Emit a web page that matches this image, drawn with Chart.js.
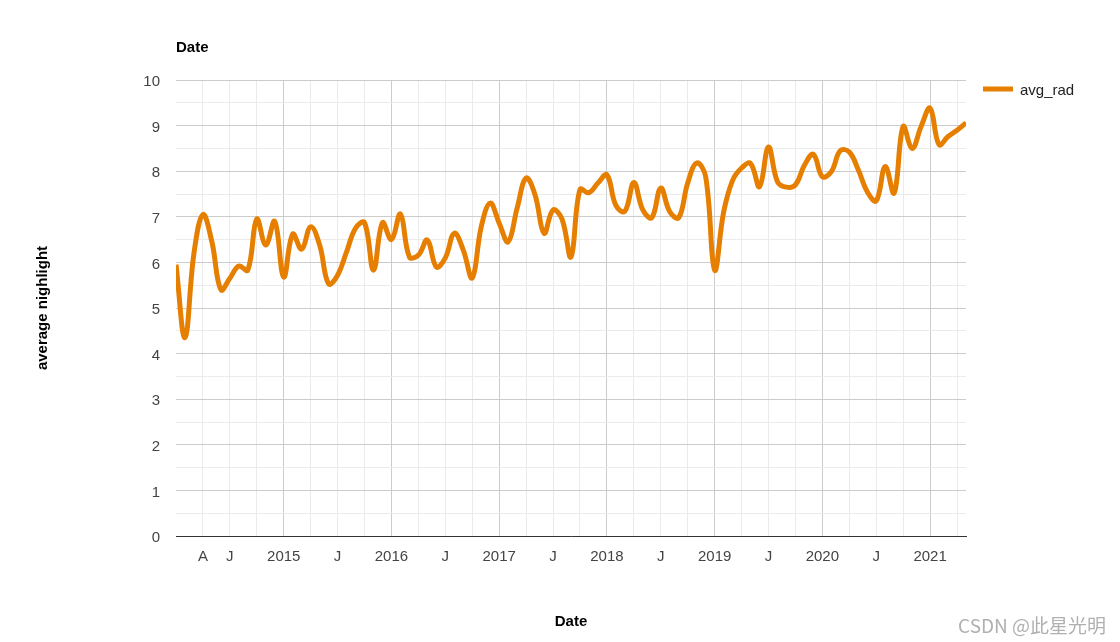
<!DOCTYPE html>
<html>
<head>
<meta charset="utf-8">
<script src="https://cdn.jsdelivr.net/npm/chart.js@4"></script>
<style>
  html, body { margin: 0; padding: 0; background: #fff; }
  #wrap { width: 1120px; height: 642px; position: relative; }
</style>
</head>
<body>
<div id="wrap"><canvas id="chart" width="1120" height="642"></canvas></div>
<script>
// monthly avg_rad, Jan 2014 .. May 2021 (month index 0 = Jan 2014)
const avgRad = [
  5.95, 4.35, 6.2, 7.05, 6.45, 5.4, 5.65, 5.92, 5.83, 6.95, 6.38, 6.9,
  5.68, 6.62, 6.29, 6.78, 6.38, 5.53, 5.72, 6.23, 6.75, 6.87, 5.83, 6.87,
  6.5, 7.06, 6.12, 6.16, 6.49, 5.9, 6.1, 6.64, 6.27, 5.66, 6.78, 7.3,
  6.86, 6.45, 7.19, 7.85, 7.48, 6.64, 7.15, 6.95, 6.12, 7.6, 7.53, 7.74,
  7.92, 7.25, 7.12, 7.75, 7.15, 6.98, 7.63, 7.11, 6.98, 7.74, 8.18, 7.88,
  5.83, 7.1, 7.8, 8.07, 8.17, 7.66, 8.53, 7.77, 7.65, 7.7, 8.13, 8.37,
  7.88, 7.99, 8.45, 8.42, 8.03, 7.55, 7.35, 8.1, 7.52, 8.98, 8.5, 8.98,
  9.38, 8.58, 8.76, 8.9, 9.06
];
const tickMonths = [3, 6, 12, 18, 24, 30, 36, 42, 48, 54, 60, 66, 72, 78, 84];
const tickLabels = ['A', 'J', '2015', 'J', '2016', 'J', '2017', 'J', '2018', 'J', '2019', 'J', '2020', 'J', '2021'];
const yTicks = [0, 1, 2, 3, 4, 5, 6, 7, 8, 9, 10];

const ORANGE = '#e67e00';
const FONT = '"Liberation Sans", Arial, sans-serif';

const points = avgRad.map((v, i) => ({ x: i, y: v }));

const extras = {
  id: 'extras',
  afterDraw(c) {
    const ctx = c.ctx;
    ctx.save();
    // title above the plot
    ctx.font = 'bold 15px ' + FONT;
    ctx.fillStyle = '#000';
    ctx.textAlign = 'left';
    ctx.textBaseline = 'middle';
    ctx.fillText('Date', 176, 48);
    // legend
    ctx.strokeStyle = ORANGE;
    ctx.lineWidth = 5;
    ctx.beginPath();
    ctx.moveTo(983, 89);
    ctx.lineTo(1013, 89);
    ctx.stroke();
    ctx.font = '15px ' + FONT;
    ctx.fillStyle = '#222';
    ctx.fillText('avg_rad', 1020, 91);
    // watermark
    ctx.font = '19px "Noto Sans CJK SC", "Noto Sans", sans-serif';
    ctx.fillStyle = '#b0b0b0';
    ctx.textAlign = 'right';
    ctx.fillText('CSDN @此星光明', 1106, 626);
    ctx.restore();
  }
};

new Chart(document.getElementById('chart'), {
  type: 'line',
  data: {
    datasets: [{
      label: 'avg_rad',
      data: points,
      borderColor: ORANGE,
      backgroundColor: ORANGE,
      borderWidth: 5,
      pointRadius: 0,
      tension: 0.4,
      fill: false
    }]
  },
  options: {
    responsive: false,
    animation: false,
    layout: { padding: { top: 80, right: 154, bottom: 0, left: 0 } },
    plugins: {
      legend: { display: false },
      tooltip: { enabled: false }
    },
    scales: {
      x: {
        type: 'linear',
        min: 0,
        max: 88,
        afterFit: s => { s.height = 106; },
        ticks: {
          stepSize: 3,
          includeBounds: false,
          autoSkip: false,
          maxRotation: 0,
          padding: 12,
          color: '#444',
          font: { family: FONT, size: 15 },
          callback: v => {
            const k = tickMonths.indexOf(v);
            return k >= 0 ? tickLabels[k] : '';
          }
        },
        grid: {
          drawTicks: false,
          color: ctx => {
            const v = ctx.tick ? ctx.tick.value : -1;
            if (v === 0) return 'rgba(0,0,0,0)';
            return v % 12 === 0 ? '#cccccc' : '#ebebeb';
          }
        },
        border: { display: true, color: '#333', width: 1 },
        title: {
          display: true,
          text: 'Date',
          color: '#000',
          font: { family: FONT, size: 15, weight: 'bold' },
          padding: { top: 4, bottom: 11 }
        }
      },
      y: {
        min: 0,
        max: 10,
        afterFit: s => { s.width = 176; },
        ticks: {
          stepSize: 0.5,
          autoSkip: false,
          padding: 16,
          labelOffset: 2,
          color: '#444',
          font: { family: FONT, size: 15 },
          callback: v => (yTicks.includes(v) ? String(v) : '')
        },
        grid: {
          drawTicks: false,
          color: ctx => {
            const v = ctx.tick ? ctx.tick.value : -1;
            return Number.isInteger(v) ? '#cccccc' : '#ebebeb';
          }
        },
        border: { display: false },
        title: {
          display: true,
          text: 'average nighlight',
          color: '#000',
          font: { family: FONT, size: 15, weight: 'bold' },
          padding: { top: 34, bottom: 4 }
        }
      }
    }
  },
  plugins: [extras]
});
</script>
</body>
</html>
